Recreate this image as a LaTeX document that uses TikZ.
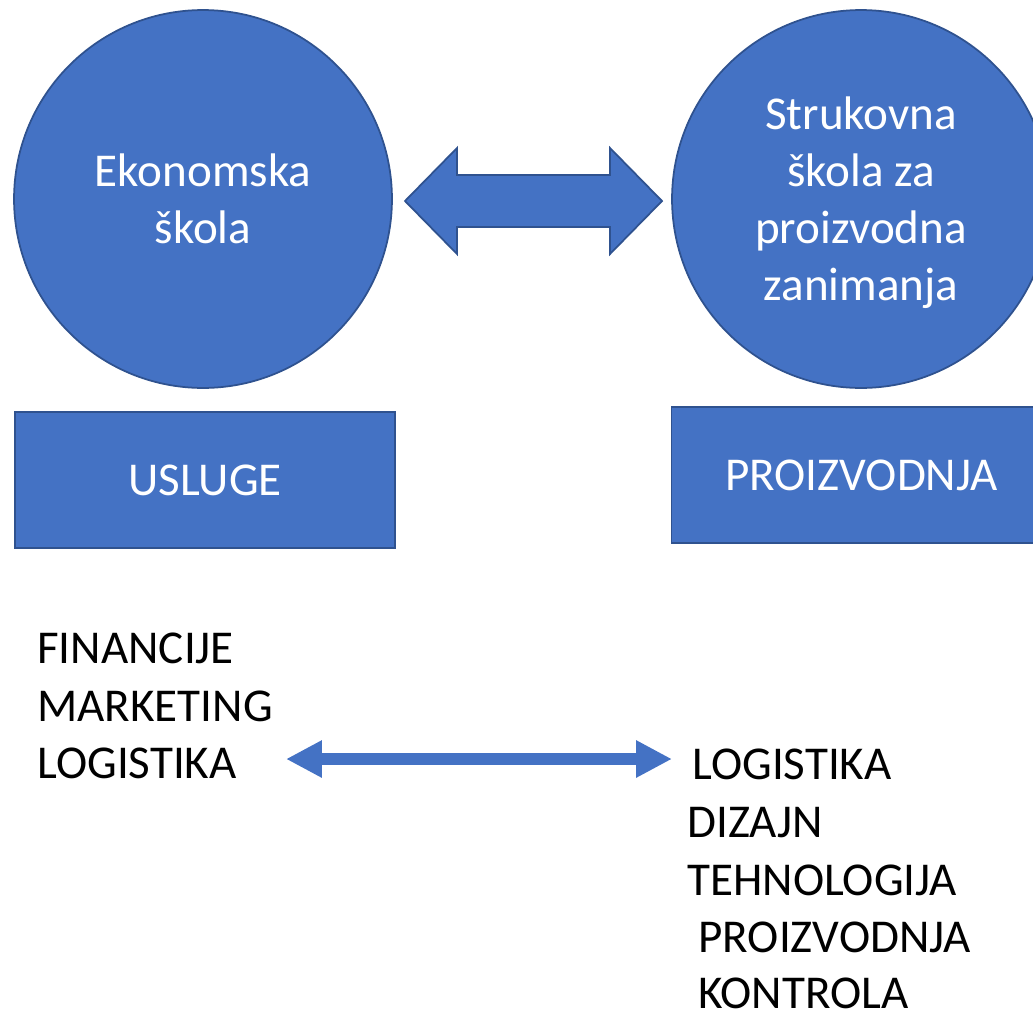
\documentclass[tikz,border=0pt]{standalone}
\usepackage{fontspec}
\setmainfont{Carlito}
\usetikzlibrary{arrows.meta}
\definecolor{officeblue}{HTML}{4472C4}
\definecolor{officeedge}{HTML}{2F528F}

\begin{document}
\begin{tikzpicture}[x=0.02cm,y=-0.02cm]
\tikzstyle{school}=[circle, draw=officeedge, fill=officeblue, line width=1pt, minimum size=7.56cm, inner sep=0pt, text=white, align=center, font=\fontsize{26.8}{32.4}\selectfont]
\tikzstyle{field}=[rectangle, draw=officeedge, fill=officeblue, line width=1pt, minimum width=7.6cm, minimum height=2.72cm, inner sep=0pt, text=white, font=\fontsize{26.8}{32.4}\selectfont]
\tikzstyle{item}=[anchor=base west, inner sep=0pt, font=\fontsize{26.8}{32.4}\selectfont]
\clip (0,0) rectangle (1033,1011);

\node[school] (eko) at (203,199) {Ekonomska\\škola};
\node[school, text depth=0pt] (stru) at (861,199) {Strukovna\\škola za\\proizvodna\\zanimanja};

\draw[draw=officeedge, fill=officeblue, line width=1pt] (405,201) -- (457,148) -- (457,175) -- (610,175) -- (610,148) -- (662,201) -- (610,254) -- (610,227) -- (457,227) -- (457,254) -- cycle;

\node[field] (usl) at (205,480) {USLUGE};
\node[field] (pro) at (861.5,475) {PROIZVODNJA};

\node[item] (fin) at (37,663) {FINANCIJE};
\node[item] (mar) at (37,721) {MARKETING};
\node[item] (logl) at (37,778) {LOGISTIKA};

\node[item] (logr) at (692,779) {LOGISTIKA};
\node[item] (diz) at (687,837) {DIZAJN};
\node[item] (teh) at (687,895) {TEHNOLOGIJA};
\node[item] (proi) at (698,952) {PROIZVODNJA};
\node[item] (kon) at (698,1008) {KONTROLA};

\coordinate (tipl) at (286,759);
\coordinate (tipr) at (672,759);
\draw[officeblue, line width=0.24cm, {Triangle[length=0.72cm,width=0.7cm]}-{Triangle[length=0.72cm,width=0.7cm]}] (tipl) -- (tipr);
\end{tikzpicture}
\end{document}
